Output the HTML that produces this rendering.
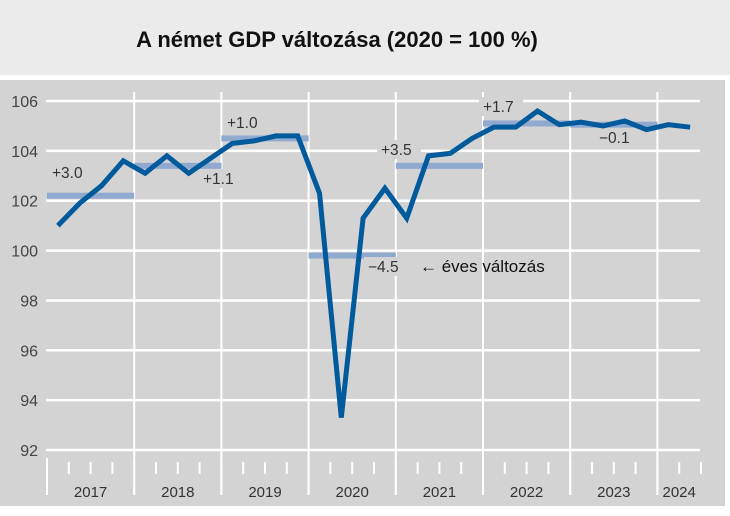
<!DOCTYPE html>
<html><head><meta charset="utf-8"><style>
body{margin:0;width:730px;height:511px;background:#fff;overflow:hidden;font-family:"Liberation Sans",sans-serif}
</style></head><body>
<svg width="730" height="511" xmlns="http://www.w3.org/2000/svg">
<rect x="0" y="0" width="730" height="75" fill="#ebebeb"/>
<text x="337" y="47" text-anchor="middle" font-size="22" font-weight="bold" fill="#111">A német GDP változása (2020 = 100 %)</text>
<rect x="0" y="80" width="725" height="426" fill="#d3d3d3"/>
<g id="grid"></g><g id="bars"></g><g id="labels"></g><g id="line"></g><g id="axis"></g>
<text x="420" y="272" font-size="17" fill="#111">← éves változás</text>
</svg>
<script>
const years=["2017","2018","2019","2020","2021","2022","2023","2024"];
const gdp=[101.0,101.9,102.6,103.6, 103.1,103.8,103.1,103.7, 104.3,104.4,104.6,104.6, 102.3,93.3,101.3,102.5, 101.3,103.8,103.9,104.5, 104.95,104.95,105.6,105.05, 105.15,105.0,105.2,104.85, 105.05,104.95];
const annual=[102.2,103.4,104.5,99.8,103.4,105.1,105.05];
const annualLabels=["+3.0","+1.1","+1.0","−4.5","+3.5","+1.7","−0.1"];
const yTicks=[92,94,96,98,100,102,104,106];
const NS="http://www.w3.org/2000/svg";
const x0=47,yw=87.2,qw=yw/4;
const X=q=>x0+qw*(q+0.5);
const Y=v=>101+(106-v)*24.93;
function mk(tag,at,parent){const e=document.createElementNS(NS,tag);for(const k in at)e.setAttribute(k,at[k]);document.getElementById(parent).appendChild(e);return e;}
yTicks.forEach(t=>{
 const l=mk('line',{x1:46,x2:700,y1:Y(t),y2:Y(t),stroke:'#fff','stroke-width':2.5},'grid');
 
 
 const tx=mk('text',{x:38,y:Y(t)+6,'text-anchor':'end','font-size':16,fill:'#444'},'axis');
 tx.textContent=t;
 
 
});
for(let i=1;i<years.length;i++){
 const x=x0+yw*i;
 const l=mk('line',{x1:x,x2:x,y1:92,y2:495,stroke:'#fff','stroke-width':2},'grid');
 
 
}
for(let q=0;q<=30;q++){
 const x=x0+qw*q;
 const big=q%4==0;
 const l=mk('line',{x1:x,x2:x,y1:big?458:462,y2:big?495:474,stroke:'#fff','stroke-width':2},'axis');
 
 
}
years.forEach((y,i)=>{
 const cx=i<7?x0+yw*(i+0.5):x0+yw*7+qw;
 const t=mk('text',{x:cx,y:497,'text-anchor':'middle','font-size':15,fill:'#333'},'axis');
 t.textContent=y;
 
 
});
const lblPos=[[52,178,'start'],[203,184,'start'],[227,128,'start'],[368,272,'start'],[381,155,'start'],[483,112,'start'],[599,143,'start']];
annual.forEach((v,i)=>{
 const b=mk('rect',{x:x0+yw*i,y:Y(v)-3,width:yw,height:6,fill:'#8fa9cf'},'bars');
 
 
 const p=lblPos[i];
 const bg=mk('rect',{x:p[0]-4,y:p[1]-15,width:44,height:19,fill:'#d3d3d3'},'labels');
 
 
 const t=mk('text',{x:p[0],y:p[1],'font-size':15.5,fill:'#333'},'labels');
 t.textContent=annualLabels[i];
 
 
});
const path=mk('polyline',{points:gdp.map((v,i)=>X(i)+','+Y(v)).join(' '),fill:'none',stroke:'#005a9c','stroke-width':5,'stroke-linejoin':'miter'},'line');


</script>
</body></html>
